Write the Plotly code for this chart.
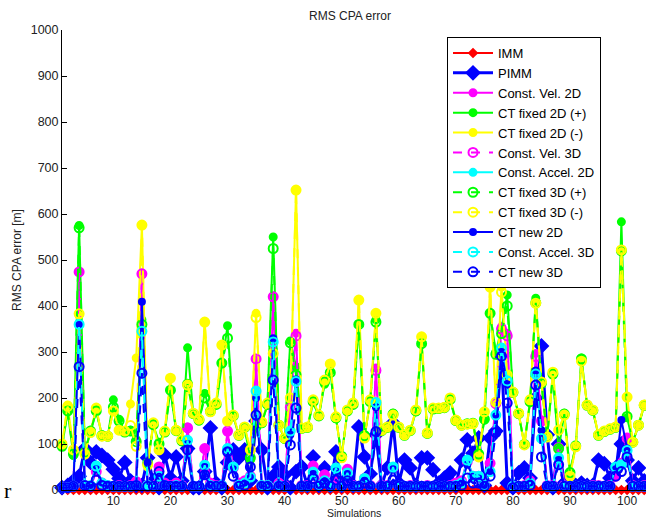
import plotly.graph_objects as go

sims = list(range(1, 104))

imm = [0,0,0,0,0,0,0,0,0,0, 0,0,0,0,0,0,0,0,0,0, 0,0,0,0,0,0,0,0,0,0,
       0,0,0,0,0,0,0,0,0,0, 0,0,0,0,0,0,0,0,0,0, 0,0,0,0,0,0,0,0,0,0,
       0,0,0,0,0,0,0,0,0,0, 0,0,0,0,0,0,0,0,0,0, 0,0,0,0,0,0,0,0,0,0,
       0,0,0,0,0,0,0,0,0,0, 0,0,0]

pimm = [5,10,20,30,90,60,83,75,65,45, 25,60,20,10,10,70,20,5,76,26,
        72,20,90,5,5,40,135,15,5,60, 87,70,87,20,150,87,5,30,50,33,
        5,40,50,10,72,10,48,10,83,10, 26,10,137,72,35,120,10,48,146,15,
        65,48,10,70,70,44,15,26,37,10, 65,109,80,113,10,113,128,290,15,5,
        37,48,26,200,313,120,5,100,15,20, 10,15,10,10,65,57,26,48,100,65,
        20,48,20]

cv2d = [5,5,8,474,10,8,40,15,10,8, 10,8,10,20,471,10,10,50,15,10,
        15,10,137,8,8,91,15,10,10,126, 50,15,20,30,283,10,10,422,15,10,
        190,341,10,10,54,15,33,10,20,10, 46,10,8,25,10,265,10,10,50,8,
        8,10,8,8,10,8,8,8,10,15, 20,65,30,30,10,60,190,355,341,8,
        8,10,20,297,152,10,10,94,10,8, 8,8,8,10,10,8,10,30,60,115,
        10,8,10]

ct2d_plus = [95,170,75,575,85,130,170,120,115,196, 154,125,130,110,370,60,140,104,125,217,
             128,105,309,165,150,210,170,185,276,357, 160,118,135,65,140,145,185,550,140,110,
             324,268,133,135,190,160,230,258,155,75, 170,185,361,120,190,370,128,135,167,135,
             118,128,170,319,122,175,176,178,195,150, 140,145,146,80,152,384,300,350,424,210,
             165,100,190,417,230,115,250,87,167,40, 95,287,183,172,118,126,131,135,583,157,
             105,140,183]

ct2d_minus = [100,185,87,380,78,125,178,117,117,172, 130,128,187,287,576,50,146,87,128,243,
              130,109,228,167,154,365,170,189,315,150, 163,120,137,87,384,148,189,297,141,113,
              200,652,135,137,196,163,239,274,159,70, 174,189,413,113,196,384,130,137,163,137,
              120,130,174,333,124,178,178,180,200,152, 141,143,144,72,170,441,191,441,250,213,
              167,98,196,406,235,115,256,130,163,30, 94,280,185,174,120,128,133,137,522,202,
              104,141,185]

cv3d = [5,5,8,474,10,8,40,15,10,8, 10,8,10,18,470,10,10,50,15,10,
        15,10,135,8,8,90,15,10,10,128, 48,15,20,30,285,10,10,420,15,10,
        180,335,10,10,52,15,33,10,20,10, 45,10,8,25,10,260,10,10,48,8,
        8,10,8,8,10,8,8,8,10,15, 20,62,30,30,10,58,188,350,335,8,
        8,10,20,290,150,10,10,92,10,8, 8,8,8,10,10,8,10,30,58,112,
        10,8,10]

ca2d = [5,5,8,363,10,10,54,15,10,8, 8,8,8,10,348,10,8,30,10,8,
        10,8,109,8,8,54,10,8,10,91, 50,10,15,28,217,10,10,326,10,8,
        130,239,8,8,39,10,20,8,48,8, 37,8,8,25,8,191,8,8,50,8,
        8,8,8,8,8,8,8,8,8,10, 15,65,30,30,10,40,165,311,239,8,
        8,8,15,254,113,8,8,70,8,8, 8,8,8,8,8,8,8,50,55,87,
        8,8,8]

ct3d_plus = [95,172,78,570,82,128,172,118,117,180, 150,126,128,105,360,58,142,100,126,217,
             129,107,230,166,152,200,171,186,276,330, 161,119,136,70,138,146,186,525,141,112,
             320,250,134,136,192,161,235,255,157,73, 172,186,360,118,192,365,129,136,165,136,
             119,129,172,318,123,176,177,179,197,151, 141,144,145,78,154,384,295,340,400,212,
             166,99,192,407,232,116,252,90,165,38, 96,285,184,173,119,127,132,136,520,160,
             104,141,184]

ct3d_minus = [100,182,87,383,78,125,178,117,117,172, 130,128,140,95,576,55,146,87,128,243,
              130,109,228,167,154,365,170,189,315,150, 163,120,137,87,375,148,189,297,141,113,
              200,652,135,137,196,163,239,274,159,70, 174,189,413,113,196,384,130,137,163,137,
              120,130,174,333,124,178,178,180,200,152, 141,143,144,72,170,441,191,430,250,213,
              167,98,196,406,235,115,256,130,163,30, 94,280,185,174,120,128,133,137,522,202,
              104,141,185]

ctnew2d = [5,5,8,360,10,10,45,12,10,8, 8,8,8,10,409,60,8,30,10,8,
           10,8,100,8,8,50,10,8,10,85, 45,10,15,30,200,10,10,330,10,8,
           120,240,8,8,35,10,20,8,40,8, 35,8,8,20,8,180,8,8,45,8,
           8,8,8,8,8,8,8,8,8,10, 15,55,30,25,10,40,160,300,230,8,
           8,8,15,260,130,8,8,65,8,8, 8,8,8,8,8,8,8,45,152,90,
           8,8,8]

ca3d = [5,5,8,360,10,10,52,15,10,8, 8,8,8,10,345,10,8,30,10,8,
        10,8,108,8,8,54,10,8,10,90, 50,10,15,28,215,10,10,322,10,8,
        128,236,8,8,39,10,20,8,48,8, 37,8,8,25,8,190,8,8,50,8,
        8,8,8,8,8,8,8,8,8,10, 15,65,30,30,10,40,163,308,237,8,
        8,8,15,252,112,8,8,70,8,8, 8,8,8,8,8,8,8,50,55,86,
        8,8,8]

ctnew3d = [5,5,8,268,10,8,22,10,8,8, 8,8,8,10,254,8,8,40,10,8,
           8,8,87,8,8,33,8,8,8,83, 30,8,10,50,163,8,8,239,8,8,
           98,178,8,8,25,8,15,8,22,8, 20,8,8,15,8,127,8,8,22,8,
           8,8,8,8,8,8,8,8,8,8, 10,26,15,15,8,30,125,291,189,5,
           8,8,10,228,72,8,8,55,8,8, 8,8,8,8,8,8,8,30,40,72,
           8,8,8]

names = ["IMM", "PIMM", "Const. Vel. 2D", "CT fixed 2D (+)", "CT fixed 2D (-)",
         "Const. Vel. 3D", "Const. Accel. 2D", "CT fixed 3D (+)", "CT fixed 3D (-)",
         "CT new 2D", "Const. Accel. 3D", "CT new 3D"]
values = [imm, pimm, cv2d, ct2d_plus, ct2d_minus, cv3d, ca2d, ct3d_plus, ct3d_minus,
          ctnew2d, ca3d, ctnew3d]

RED, BLUE, MAG, GRN, YEL, CYN = "#FF0000", "#0000FF", "#FF00FF", "#00FF00", "#FFFF00", "#00FFFF"
# (color, dash, symbol, marker size, line width)
styles = [
    (RED, "solid", "diamond", 6, 2),
    (BLUE, "solid", "diamond", 10, 3),
    (MAG, "solid", "circle", 7, 2),
    (GRN, "solid", "circle", 7, 2),
    (YEL, "solid", "circle", 7, 2),
    (MAG, "dash", "circle-open", 9, 2),
    (CYN, "solid", "circle", 7, 2),
    (GRN, "dash", "circle-open", 9, 2),
    (YEL, "dash", "circle-open", 9, 2),
    (BLUE, "solid", "circle", 6, 2),
    (CYN, "dash", "circle-open", 9, 2),
    (BLUE, "dash", "circle-open", 9, 2),
]

fig = go.Figure()
for name, vals, (col, dash, sym, ms, lw) in zip(names, values, styles):
    fig.add_trace(go.Scatter(
        x=sims, y=vals, name=name, mode="lines+markers",
        line=dict(color=col, width=lw, dash=dash),
        marker=dict(symbol=sym, size=ms, color=col, line=dict(color=col, width=2)),
        cliponaxis=False,
    ))

fig.update_layout(
    width=646, height=520,
    margin=dict(l=62, r=0, t=30, b=30),
    paper_bgcolor="white", plot_bgcolor="white",
    font=dict(family="Liberation Sans, Arial, sans-serif", size=12, color="#222"),
    title=dict(text="RMS CPA error", x=350/646, xanchor="center",
               y=1 - 16/520, yanchor="middle", font=dict(size=12, color="#222")),
    legend=dict(x=(447-62)/584, y=(490-37)/460, xanchor="left", yanchor="top",
                bgcolor="white", bordercolor="black", borderwidth=1, itemwidth=40,
                font=dict(size=13, color="black"), traceorder="normal"),
    showlegend=True,
)
fig.update_xaxes(range=[1, 1 + 584/5.708], tickvals=list(range(10, 101, 10)),
                 ticks="inside", ticklen=5, tickcolor="black", showline=True,
                 linecolor="black", linewidth=1, showgrid=False, zeroline=False,
                 automargin=False, tickfont=dict(size=12, color="#222"))
fig.update_yaxes(range=[0, 1000], dtick=100, ticks="inside", ticklen=5, tickcolor="black",
                 showline=True, linecolor="black", linewidth=1, showgrid=False,
                 zeroline=False, automargin=False, tickfont=dict(size=12.5, color="#222"),
                 title=dict(text="RMS CPA error [m]", standoff=6, font=dict(size=12, color="#222")))
# x-axis title as an annotation kept fully inside the bottom edge, below the tick labels
fig.add_annotation(text="Simulations", xref="paper", yref="paper", x=0.5, y=0,
                   xanchor="center", yanchor="bottom", yshift=-30, borderpad=0,
                   showarrow=False, font=dict(size=10.5, color="#222"))
fig.add_annotation(text="r", xref="paper", yref="paper", x=-60/584, y=0,
                   xanchor="left", yanchor="middle", showarrow=False,
                   font=dict(family="Liberation Serif, DejaVu Serif, serif", size=22, color="black"))

fig.write_html("out.html", config={"displayModeBar": False},
               post_script="document.body.style.margin='0';document.body.style.overflow='hidden';")
